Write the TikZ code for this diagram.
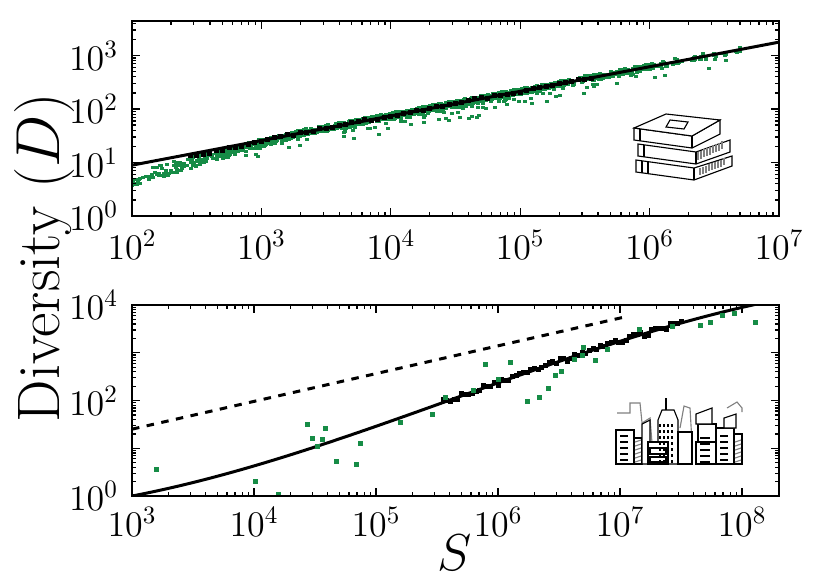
\documentclass[tikz,border=0pt]{standalone}
\usepackage{amsmath}
\usepackage{xcolor}
\usetikzlibrary{positioning}
\definecolor{dgreen}{RGB}{22,140,70}
\tikzset{
  pt/.style={fill=dgreen},
  bk/.style={fill=black},
  tl/.style={font=\fontsize{14}{16}\selectfont},
}
% log helpers: top panel and bottom panel, in pixels
\newcommand{\tx}[1]{132+129.4*(#1-2)}
\newcommand{\ty}[1]{216-53.5*(#1)}
\newcommand{\bx}[1]{132+122*(#1-3)}
\newcommand{\by}[1]{496-47.75*(#1)}
\begin{document}
\begin{tikzpicture}[x=0.4pt,y=-0.4pt,line width=0.5pt]
\useasboundingbox (0,0) rectangle (830,581);
\pgfmathsetseed{7}

% ---- top panel ----
\begin{scope}
\clip (132,21) rectangle (779,216);
\foreach \i in {1,...,1300}{
  \pgfmathsetmacro{\l}{2.0+4.8*(rnd+rnd)/2}
  \pgfmathsetmacro{\d}{0.95+0.46*(\l-2)+0.06*rand-0.12*max(0,3.3-\l)-0.3*rnd^20}
  \fill[pt] ({\tx{\l}-2},{\ty{\d}-1.5}) rectangle ++(4,3);
}
\foreach \i in {1,...,120}{
  \pgfmathsetmacro{\l}{2.0+1.3*rnd}
  \pgfmathsetmacro{\d}{0.95+0.46*(\l-2)+0.06*rand-0.25*(3.3-\l)}
  \fill[pt] ({\tx{\l}-2},{\ty{\d}-1.5}) rectangle ++(4,3);
}
\foreach \l in {2.45,2.5,...,5.6}{
  \pgfmathsetmacro{\d}{0.95+0.46*(\l-2)+0.02*rand-0.06*max(0,3.2-\l)}
  \fill[bk] ({\tx{\l}-2.5},{\ty{\d}-2.5}) rectangle ++(5,5);
}
\draw[line width=1.2pt] ({\tx{2}},{\ty{0.95}}) -- ({\tx{7}},{\ty{3.25}});
\end{scope}
\draw (132,21) rectangle (779,216);
\foreach \k in {2,...,6}{
  \draw ({\tx{\k}},216) -- ++(0,-8) ({\tx{\k}},21) -- ++(0,8);
  \foreach \m in {2,...,9}{
    \draw ({\tx{\k+ln(\m)/ln(10)}},216) -- ++(0,-4) ({\tx{\k+ln(\m)/ln(10)}},21) -- ++(0,4);
  }
}
\foreach \k in {0,...,3}{
  \draw (132,{\ty{\k}}) -- ++(8,0) (779,{\ty{\k}}) -- ++(-8,0);
  \foreach \m in {2,...,9}{
    \pgfmathsetmacro{\v}{\k+ln(\m)/ln(10)}
    \ifdim\v pt<3.64pt
      \draw (132,{\ty{\v}}) -- ++(4,0) (779,{\ty{\v}}) -- ++(-4,0);
    \fi
  }
}
\foreach \k in {2,...,7}
  \node[tl] (tx\k) at ({\tx{\k}},245) {$10^{\k}$};
\foreach \k in {0,...,3}
  \node[tl,anchor=east] (ty\k) at (127,{\ty{\k}}) {$10^{\k}$};

% books
\begin{scope}[shift={(632,112)},line width=0.45pt]
  \draw[fill=white] (4,48) -- (62,56) -- (100,44) -- (100,54) -- (62,68) -- (4,60) -- cycle;
  \draw (62,56) -- (62,68) (10,49) -- (10,61) (16,50) -- (16,62);
  \draw[fill=white] (6,32) -- (64,40) -- (98,28) -- (98,40) -- (64,52) -- (6,44) -- cycle;
  \draw (64,40) -- (64,52) (12,33) -- (12,45);
  \draw[fill=white] (2,16) -- (60,24) -- (88,8) -- (88,22) -- (60,36) -- (2,28) -- cycle;
  \draw[fill=white] (2,16) -- (34,2) -- (88,8) -- (60,24) -- cycle;
  \draw (60,24) -- (60,36) (8,17) -- (8,29);
  \draw (38,8) -- (56,10) -- (52,17) -- (34,15) -- cycle;
  \foreach \s in {0,3,...,24}
    \draw[gray] (66+\s,{40-\s*0.45}) -- ++(0,8) (68+\s,{56-\s*0.4}) -- ++(0,7);
\end{scope}

% ---- bottom panel ----
\begin{scope}
\clip (132,305) rectangle (779,496);
\draw[line width=1.2pt,dashed] ({\bx{3}},{\by{1.4}}) -- ({\bx{7.04}},{\by{3.75}});
\draw[line width=1.2pt,domain=3:8.35,samples=60,smooth]
  plot ({\bx{\x}},{\by{0.63+0.75*(\x-4)+0.1*(\x-4)^2-0.02*(\x-4)^3}});
\foreach \l in {5.55,5.58,...,7.5}{
  \pgfmathsetmacro{\d}{0.63+0.75*(\l-4)+0.1*(\l-4)^2-0.02*(\l-4)^3+0.06*rand}
  \fill[bk] ({\bx{\l}-2.5},{\by{\d}-2.5}) rectangle ++(5,5);
}
\foreach \l/\d in {3.2/0.55,4.01/0.31,4.2/0,4.2/0.03,4.44/1.49,4.48/1.21,4.52/1.03,
  4.59/1.42,4.56/1.18,4.68/0.73,4.84/0.65,4.87/1.1,5.46/1.7,5.57/2.07,5.8/2.2,
  5.9/2.76,6.1/2.8,6.24/1.97,6.34/2.07,6.41/2.26,6.47/2.53,6.52/2.6,6.63/2.85,
  6.69/2.95,6.8/2.83,6.9/3.06,7.16/3.48,7.43/3.54,7.66/3.58,7.74/3.64,7.84/3.79,
  7.94/3.83,8.11/3.64,5.2/1.55,6.0/2.45,6.7/3.1}
  \fill[pt] ({\bx{\l}-2.5},{\by{\d}-2.5}) rectangle ++(5,5);
\end{scope}
\draw (132,305) rectangle (779,496);
\foreach \k in {3,...,8}{
  \draw ({\bx{\k}},496) -- ++(0,-8) ({\bx{\k}},305) -- ++(0,8);
  \foreach \m in {2,...,9}{
    \pgfmathsetmacro{\v}{\k+ln(\m)/ln(10)}
    \ifdim\v pt<8.3pt
      \draw ({\bx{\v}},496) -- ++(0,-4) ({\bx{\v}},305) -- ++(0,4);
    \fi
  }
}
\foreach \k in {0,...,3}{
  \draw (132,{\by{\k}}) -- ++(8,0) (779,{\by{\k}}) -- ++(-8,0);
  \foreach \m in {2,...,9}
    \draw (132,{\by{\k+ln(\m)/ln(10)}}) -- ++(4,0) (779,{\by{\k+ln(\m)/ln(10)}}) -- ++(-4,0);
}
\foreach \k in {3,...,8}
  \node[tl] (bx\k) at ({\bx{\k}},522) {$10^{\k}$};
\foreach \k in {0,2,4}
  \node[tl,anchor=east] (by\k) at (127,{\by{\k}}) {$10^{\k}$};

% city
\begin{scope}[shift={(612,398)},line width=0.45pt]
  \draw[gray] (5,15) -- (18,15) -- (18,5) -- (28,5) -- (30,25) -- (38,20) -- (40,45)
    (68,30) -- (72,8) -- (78,10) -- (80,45) (115,10) -- (125,4) -- (130,10) -- (130,14);
  \draw[fill=white] (4,32) rectangle (22,66);
  \draw[fill=white] (22,40) rectangle (30,66);
  \draw[fill=white] (30,26) -- (38,22) -- (38,66) -- (30,66) -- cycle;
  \draw[fill=white] (46,22) -- (50,12) -- (62,12) -- (66,22) -- (66,66) -- (46,66) -- cycle;
  \draw (54,12) -- (54,0);
  \draw[fill=white] (36,44) rectangle (56,66);
  \draw[fill=white] (66,34) rectangle (80,66);
  \draw[fill=white] (86,26) rectangle (104,44);
  \draw[fill=white] (84,16) -- (100,10) -- (100,26) -- (84,26) -- cycle;
  \draw[fill=white] (84,44) rectangle (110,66);
  \draw[fill=white] (104,30) rectangle (122,66);
  \draw[fill=white] (122,36) rectangle (130,66);
  \draw[fill=white] (112,20) -- (124,16) -- (124,30) -- (112,30) -- cycle;
  \foreach \a in {48,52,...,62}
    \foreach \b in {26,32,...,62}
      \draw (\a,\b) -- ++(0,3);
  \foreach \b in {38,44,...,62}
    \draw (8,\b) -- ++(8,0) (88,\b+2) -- ++(10,0) (108,\b) -- ++(8,0);
  \foreach \b in {44,48,...,64}
    \draw[gray] (23,\b) -- ++(6,-2) (123,\b) -- ++(6,-2);
  \draw (38,50) rectangle (54,56) (38,59) rectangle (54,64);
\end{scope}

% axis labels
\node[font=\fontsize{24}{28}\selectfont,rotate=90] (ylab) at (45,258) {Diversity ($D$)};
\node[font=\fontsize{22}{26}\selectfont] (xlab) at (455,553) {$S$};
\end{tikzpicture}
\end{document}
